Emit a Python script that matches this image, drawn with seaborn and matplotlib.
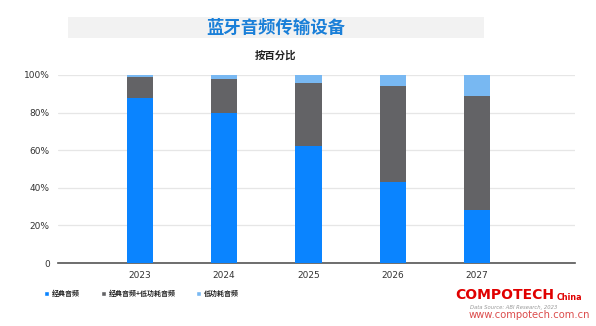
import matplotlib
matplotlib.use("Agg")
import matplotlib.pyplot as plt
from matplotlib.patches import Rectangle
import seaborn as sns
import pandas as pd

years = ["2023", "2024", "2025", "2026", "2027"]
classic = [88, 80, 62, 43, 28]
classic_plus_le = [11, 18, 34, 51, 61]
le_audio = [1, 2, 4, 6, 11]
series_names = ["经典音频", "经典音频+低功耗音频", "低功耗音频"]
ytick_labels = ["0", "20%", "40%", "60%", "80%", "100%"]

c_blue = "#0a84ff"
c_gray = "#636366"
c_light = "#78b8f2"

sns.set_theme(style="white")
plt.rcParams["font.family"] = ["Noto Sans CJK SC", "DejaVu Sans"]

df = pd.DataFrame({
    "year": years,
    "classic": classic,
    "mid": [a + b for a, b in zip(classic, classic_plus_le)],
    "top": [a + b + c for a, b, c in zip(classic, classic_plus_le, le_audio)],
})

fig = plt.figure(figsize=(5.96, 3.26), dpi=100)
ax = fig.add_axes([0.0973, 0.193, 0.8675, 0.577])

# stacked bars drawn back to front from cumulative totals
bar_kw = dict(width=0.31, ax=ax, saturation=1, linewidth=0, edgecolor="none", zorder=3)
sns.barplot(data=df, x="year", y="top", color=c_light, **bar_kw)
sns.barplot(data=df, x="year", y="mid", color=c_gray, **bar_kw)
sns.barplot(data=df, x="year", y="classic", color=c_blue, **bar_kw)

ax.set_xlim(-0.97, 5.16)
ax.set_ylim(0, 100)
ax.set_yticks([0, 20, 40, 60, 80, 100])
ax.set_yticklabels(ytick_labels, fontsize=6.5, color="#333333", family="DejaVu Sans")
ax.set_xticklabels(years, fontsize=6.5, color="#333333", family="DejaVu Sans")
ax.set_xlabel("")
ax.set_ylabel("")
ax.tick_params(axis="both", length=0, pad=6)
ax.yaxis.grid(True, color="#e6e6e6", linewidth=0.9, zorder=0)
for side in ["top", "right", "left"]:
    ax.spines[side].set_visible(False)
ax.spines["bottom"].set_color("#555555")
ax.spines["bottom"].set_linewidth(1.2)

# title band
fig.patches.append(Rectangle((68 / 596, 1 - 38 / 326), (484 - 68) / 596, 21 / 326,
                             transform=fig.transFigure, facecolor="#f2f2f2",
                             edgecolor="none", zorder=0))
fig.text(276 / 596, 1 - 27.5 / 326, "蓝牙音频传输设备", ha="center", va="center",
         fontsize=12.5, fontweight="bold", color="#1a7fd8")
fig.text(276 / 596, 1 - 56 / 326, "按百分比", ha="center", va="center",
         fontsize=7.5, fontweight="bold", color="#222222")

# legend
handles = [Rectangle((0, 0), 1, 1, facecolor=c) for c in (c_blue, c_gray, c_light)]
fig.legend(handles, series_names, loc="center left", bbox_to_anchor=(38 / 596, 1 - 293 / 326),
           ncol=3, frameon=False, handlelength=0.75, handleheight=0.75,
           handletextpad=0.35, columnspacing=3.0, prop={"weight": "bold", "size": 5})

# source / watermark
fig.text(514 / 596, 1 - 307 / 326, "Data Source: ABI Research, 2023", ha="center", va="center",
         fontsize=3.8, color="#999999", family="DejaVu Sans", style="italic")
fig.text(455 / 596, 1 - 295 / 326, "COMPOTECH", ha="left", va="center", fontsize=10,
         fontweight="bold", color="#e00000", family="DejaVu Sans")
fig.text(557 / 596, 1 - 297 / 326, "China", ha="left", va="center", fontsize=5.8,
         fontweight="bold", color="#e00000", family="DejaVu Sans")
fig.text(590 / 596, 1 - 315 / 326, "www.compotech.com.cn", ha="right", va="center",
         fontsize=7.2, color="#d01010", family="DejaVu Sans", alpha=0.75)

fig.savefig("out.png", dpi=100, facecolor="white")
